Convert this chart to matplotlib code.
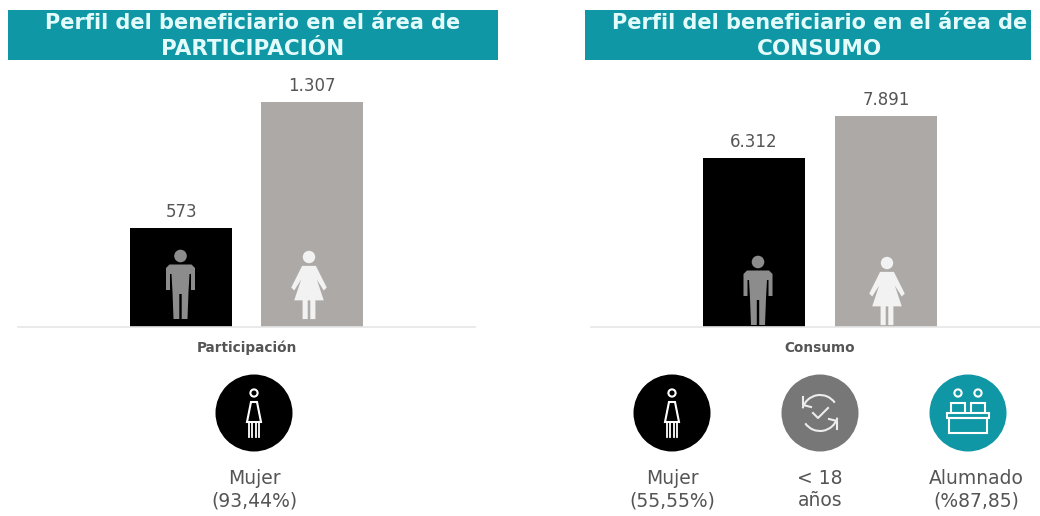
import os
import matplotlib
matplotlib.use("Agg")
import matplotlib.pyplot as plt
from matplotlib import font_manager as fm
from matplotlib.patches import Circle, Rectangle, Polygon, Arc

W, H = 1040, 516
TEAL = "#0F97A5"
GREY = "#ADA9A7"
TXT = "#555555"

groups = ["Participación", "Consumo"]
men = [573, 6312]
women = [1307, 7891]
titles = [("Perfil del beneficiario en el área de", "PARTICIPACIÓN"),
          ("Perfil del beneficiario en el área de", "CONSUMO")]
left_badges = [("Mujer\n(93,44%)", "woman")]
right_badges = [("Mujer\n(55,55%)", "woman"), ("< 18\naños", "cycle"), ("Alumnado\n(%87,85)", "desk")]

ttf = os.path.join(matplotlib.get_data_path(), "fonts", "ttf")
REG = fm.FontProperties(fname=os.path.join(ttf, "DejaVuSans.ttf"))
BOLD = fm.FontProperties(fname=os.path.join(ttf, "DejaVuSans-Bold.ttf"))


def fp(base, size):
    f = base.copy()
    f.set_size(size)
    return f


fig = plt.figure(figsize=(W / 100, H / 100), dpi=100, facecolor="white")


def fmt(v):
    return f"{v:,}".replace(",", ".")


def bar_axes(x0, x1, idx, ymax, offset, shift):
    top, base = 70, 327
    ax = fig.add_axes([x0 / W, 1 - base / H, (x1 - x0) / W, (base - top) / H])
    width = 102 / (x1 - x0)
    b1 = ax.bar([-offset], [men[idx]], width, color="black", zorder=2)
    b2 = ax.bar([offset], [women[idx]], width, color=GREY, zorder=2)
    for b in (b1, b2):
        ax.bar_label(b, labels=[fmt(b.datavalues[0])], padding=5, fontproperties=fp(REG, 12), color=TXT)
    ax.set_xlim(-0.5 - shift, 0.5 - shift)
    ax.set_ylim(0, ymax)
    ax.set_xticks([0])
    ax.set_xticklabels([groups[idx]], fontproperties=fp(BOLD, 9.8), color=TXT)
    ax.tick_params(axis="x", length=0, pad=10)
    ax.set_yticks([])
    for s in ("top", "left", "right"):
        ax.spines[s].set_visible(False)
    ax.spines["bottom"].set_color("#E6E6E6")
    ax.spines["bottom"].set_linewidth(1.2)
    ax.patch.set_alpha(0)
    return ax


bar_axes(18, 475, 0, 1493, 65.25 / 457, 0)
bar_axes(591, 1040, 1, 9611, 66 / 449, 4.5 / 449)

ov = fig.add_axes([0, 0, 1, 1], zorder=5)
ov.set_xlim(0, W)
ov.set_ylim(H, 0)
ov.axis("off")
ov.patch.set_alpha(0)

for (x0, x1), (l1, l2), tcx in zip([(8, 498), (585, 1031)], titles, [253, 820]):
    ov.add_patch(Rectangle((x0, 10), x1 - x0, 50, color=TEAL, lw=0))
    ov.text(tcx, 23, l1, color="#E4FBFB", fontproperties=fp(BOLD, 15), ha="center", va="center")
    ov.text(tcx, 49, l2, color="#E4FBFB", fontproperties=fp(BOLD, 15.5), ha="center", va="center")


def man(cx, head_y, feet_y, color):
    s = (feet_y - head_y + 6) / 69
    y = lambda d: head_y + d * s
    x = lambda d: cx + d * s
    ov.add_patch(Circle((cx, head_y), 6.3 * s, color=color, lw=0))
    ov.add_patch(Polygon([(x(-11), y(8.5)), (x(11), y(8.5)), (x(14.5), y(12)), (x(14.5), y(34)), (x(10.5), y(34)),
                          (x(10.5), y(18)), (x(9), y(18)), (x(8), y(36)), (x(7), y(63)), (x(1.2), y(63)),
                          (x(1.2), y(38)), (x(-1.2), y(38)), (x(-1.2), y(63)), (x(-7), y(63)), (x(-8), y(36)),
                          (x(-9), y(18)), (x(-10.5), y(18)), (x(-10.5), y(34)), (x(-14.5), y(34)), (x(-14.5), y(12))],
                         closed=True, color=color, lw=0))


def woman(cx, head_y, feet_y, color):
    s = (feet_y - head_y + 6) / 69
    y = lambda d: head_y + d * s
    x = lambda d: cx + d * s
    ov.add_patch(Circle((cx, head_y), 6.3 * s, color=color, lw=0))
    ov.add_patch(Polygon([(x(-7), y(9)), (x(7), y(9)), (x(18), y(31)), (x(15), y(34)), (x(8), y(23)), (x(15), y(44)),
                          (x(6.5), y(44)), (x(6.5), y(63)), (x(1.3), y(63)), (x(1.3), y(44)), (x(-1.3), y(44)),
                          (x(-1.3), y(63)), (x(-6.5), y(63)), (x(-6.5), y(44)), (x(-15), y(44)), (x(-8), y(23)),
                          (x(-15), y(34)), (x(-18), y(31))],
                         closed=True, color=color, lw=0))


man(180.5, 256, 319, "#8C8C8C")
woman(309, 257, 319, "#F2F2F2")
man(758, 262, 325, "#8C8C8C")
woman(887, 263, 325, "#F2F2F2")


def badge(cx, label, kind):
    cy = 413
    color = {"woman": "black", "cycle": "#777777", "desk": TEAL}[kind]
    ov.add_patch(Circle((cx, cy), 38.5, color=color, lw=0))
    lw = 1.5
    if kind == "woman":
        ov.add_patch(Circle((cx, cy - 20), 3.6, fc="none", ec="white", lw=lw))
        ov.add_patch(Polygon([(cx - 3, cy - 11), (cx + 3, cy - 11), (cx + 7, cy + 9), (cx - 7, cy + 9)],
                             closed=True, fc="none", ec="white", lw=lw))
        for d in (-5, -1.6, 1.6, 5):
            ov.plot([cx + d, cx + d], [cy + 9, cy + 24], color="white", lw=1.3)
    elif kind == "cycle":
        ov.add_patch(Arc((cx, cy), 36, 36, theta1=195, theta2=325, ec="#EDEDED", lw=lw))
        ov.add_patch(Arc((cx, cy), 36, 36, theta1=15, theta2=145, ec="#EDEDED", lw=lw))
        ov.plot([cx - 17, cx - 17, cx - 9], [cy - 16, cy - 8, cy - 6], color="#EDEDED", lw=lw)
        ov.plot([cx + 17, cx + 17, cx + 9], [cy + 16, cy + 8, cy + 6], color="#EDEDED", lw=lw)
        ov.plot([cx - 7, cx - 2, cx + 8], [cy, cy + 5, cy - 5], color="#EDEDED", lw=lw)
    else:
        for d in (-10, 10):
            ox = cx + d
            ov.add_patch(Circle((ox, cy - 20), 3.6, fc="none", ec="white", lw=lw))
            ov.add_patch(Rectangle((ox - 7, cy - 10), 14, 10, fc="none", ec="white", lw=lw))
        ov.add_patch(Rectangle((cx - 21, cy), 42, 5, fc=color, ec="white", lw=lw))
        ov.add_patch(Rectangle((cx - 19, cy + 5), 38, 15, fc="none", ec="white", lw=lw))
    return label


for cx, tx, (label, kind) in [(254, 254, left_badges[0]), (672, 672, right_badges[0]),
                              (820, 820, right_badges[1]), (968, 976, right_badges[2])]:
    badge(cx, label, kind)
    ov.text(tx, 490, label, ha="center", va="center", fontproperties=fp(REG, 13.5), color=TXT, linespacing=1.2)

fig.savefig("out.png", dpi=100)
